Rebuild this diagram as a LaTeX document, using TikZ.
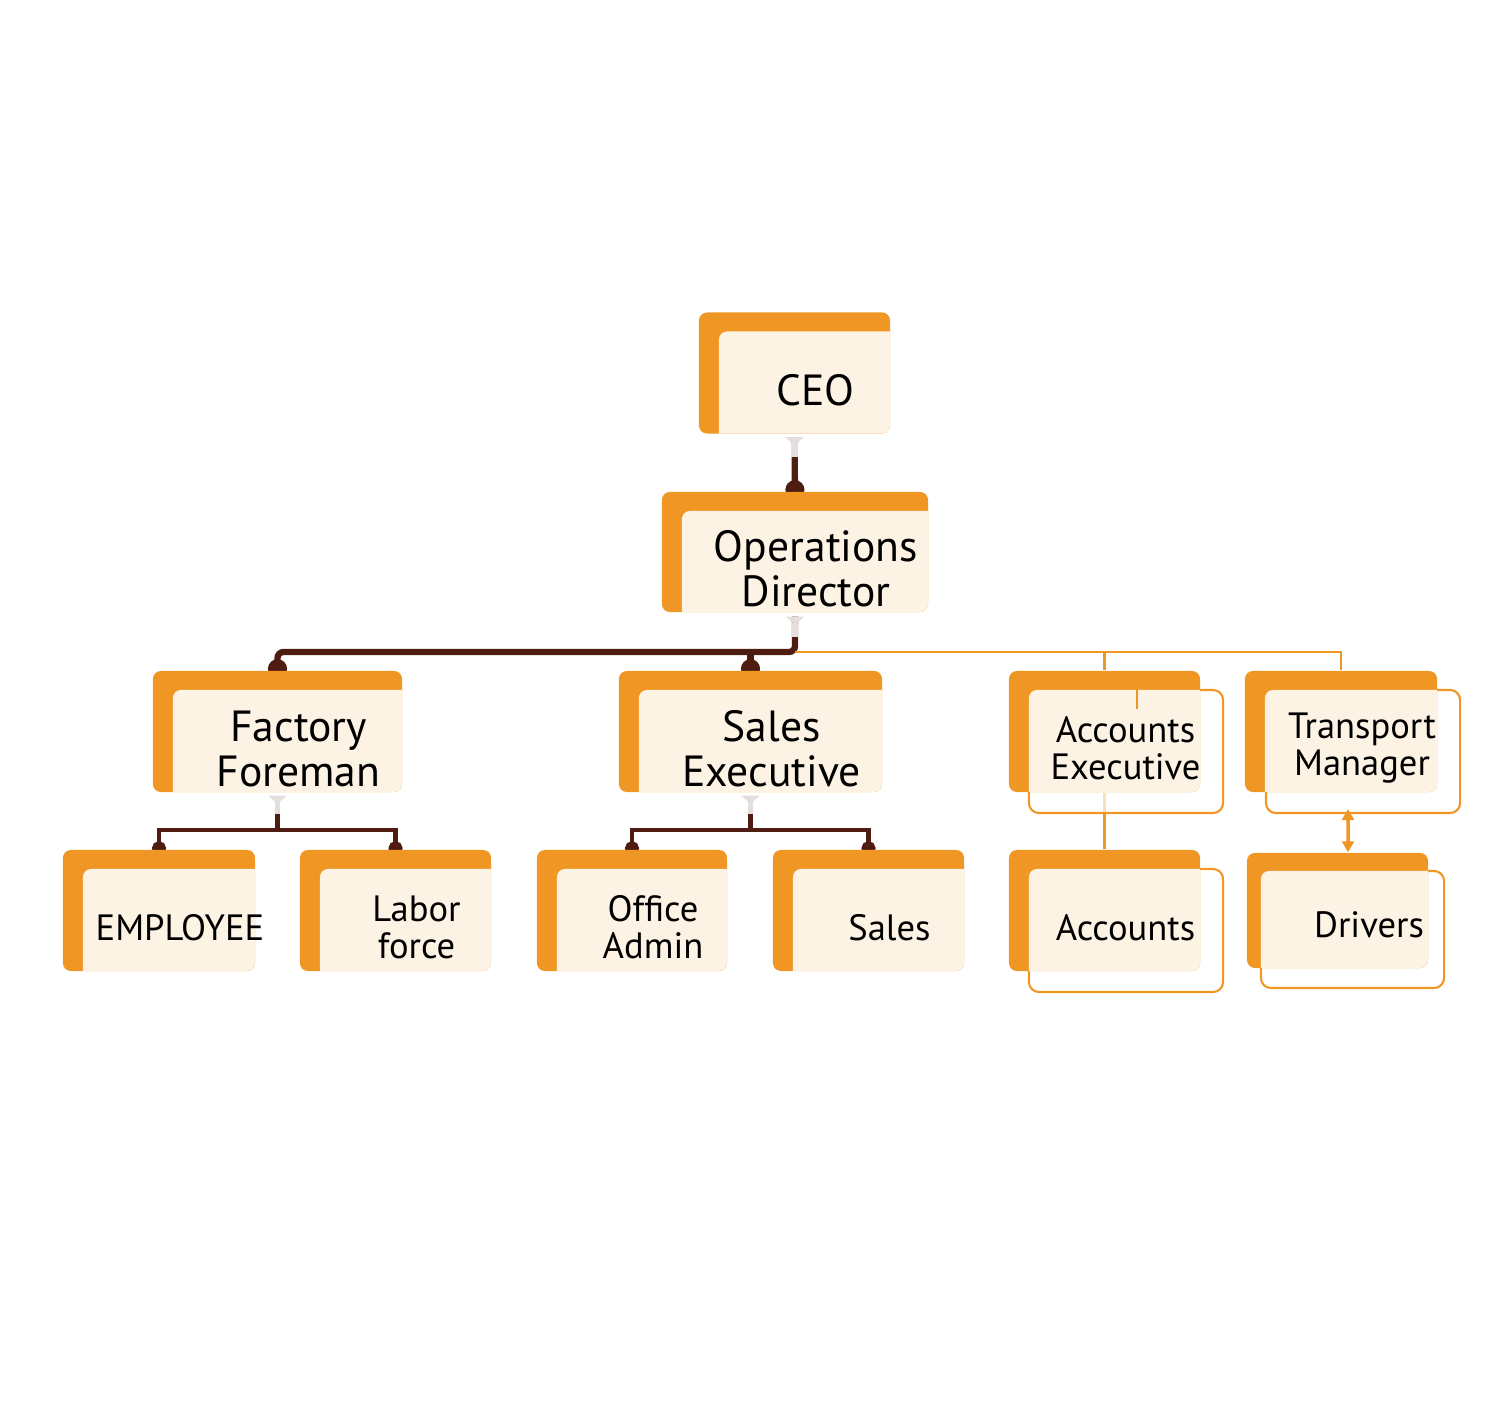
\documentclass[tikz,border=0pt]{standalone}
\usepackage{fontspec}
\setmainfont{PT Sans}
\usetikzlibrary{arrows.meta,backgrounds}

\definecolor{orgorange}{RGB}{240,150,36}
\definecolor{cream}{RGB}{253,243,228}
\definecolor{pipebrown}{RGB}{78,28,16}
\definecolor{pipegrey}{RGB}{228,222,220}

\newcommand{\bigtxt}{\fontsize{12.4}{12.8}\selectfont}
\newcommand{\smalltxt}{\fontsize{10.4}{10.5}\selectfont}
\newcommand{\creamdx}{0.2cm}
\newcommand{\creamdy}{0.19cm}

\tikzset{
  unit/.style={fill=orgorange, rounded corners=0.08cm, inner sep=0pt,
    minimum width=1.91cm, minimum height=1.21cm,
    path picture={\fill[cream, rounded corners=0.08cm]
      ([shift={(\creamdx,-\creamdy)}]path picture bounding box.north west) rectangle
      ([shift={(0.2cm,-0.2cm)}]path picture bounding box.south east);}},
  frame/.style={draw=orgorange, line width=0.6pt, fill=white, fill opacity=0.7,
    rounded corners=0.1cm, inner sep=0pt},
  txt/.style={align=center, inner sep=0pt, xshift=0.21cm, yshift=-0.17cm, font=\smalltxt},
  pipe/.style={draw=pipebrown, line width=1.8pt, rounded corners=0.06cm, -{Circle[length=0.19cm]}},
  twig/.style={draw=pipebrown, line width=1.4pt, {Circle[length=0.14cm]}-{Circle[length=0.14cm]}},
  stub/.style={draw=pipegrey, line width=1.8pt, {Triangle[reversed, width=0.18cm, length=0.08cm]}-},
  feed/.style={draw=orgorange, line width=0.6pt},
  link/.style={draw=orgorange, line width=1pt,
    {Triangle[width=0.12cm, length=0.11cm]}-{Triangle[width=0.12cm, length=0.11cm]}}
}

\begin{document}
\begin{tikzpicture}[x=0.01cm, y=-0.01cm]

  \useasboundingbox (0,0) rectangle (1500,1422);

  % top of the chart
  \node[unit, label={[txt, name=ceo-t, font=\bigtxt]center:CEO}] (ceo) at (794.5,373) {};
  \node[unit, minimum width=2.66cm, minimum height=1.20cm,
        label={[txt, name=od-t, font=\bigtxt]center:{Operations\\Director}}] (od) at (795,552) {};

  % second row
  \node[unit, minimum width=2.49cm, label={[txt, name=ff-t, font=\bigtxt]center:{Factory\\Foreman}}] (ff) at (277.5,731.5) {};
  \node[unit, minimum width=2.63cm, label={[txt, name=se-t, font=\bigtxt]center:{Sales\\Executive}}] (se) at (750.5,731.5) {};
  \node[unit, label={[txt, name=ae-t]center:{Accounts\\Executive}}] (ae) at (1104.5,731.5) {};
  \node[unit, minimum width=1.92cm, label={[txt, name=tm-t]center:{Transport\\Manager}}] (tm) at (1341,731.5) {};

  % third row
  \node[unit, minimum width=1.92cm, label={[txt, name=emp-t]center:EMPLOYEE}] (emp) at (159,910.5) {};
  \node[unit, label={[txt, name=lab-t]center:{Labor\\force}}] (lab) at (395.5,910.5) {};
  \node[unit, minimum width=1.90cm, label={[txt, name=off-t]center:{Office\\Admin}}] (off) at (632,910.5) {};
  \node[unit, label={[txt, name=sal-t]center:Sales}] (sal) at (868.5,910.5) {};
  \node[unit, label={[txt, name=acc-t]center:Accounts}] (acc) at (1104.5,910.5) {};
  \begin{scope}
    \renewcommand{\creamdx}{0.14cm}
    \renewcommand{\creamdy}{0.18cm}
    \node[unit, minimum width=1.81cm, minimum height=1.15cm,
          label={[txt, name=drv-t, xshift=0.105cm, yshift=0.025cm]center:Drivers}] (drv) at (1337.5,910.5) {};
  \end{scope}

  \coordinate (bus) at (795,652);
  \coordinate (ff-bus) at (277.5,830);
  \coordinate (se-bus) at (750.5,830);

  \begin{scope}[on background layer]
    % brown pipes
    \draw[pipe] ([yshift=-0.03cm]ceo.south) -- ([yshift=-0.08cm]od.north);
    \draw[stub] ([yshift=-0.03cm]ceo.south) -- ++(0,20);
    \draw[pipe] ([yshift=-0.04cm]od.south) -- (bus) -| ([yshift=-0.08cm]ff.north);
    \draw[pipe] (se.north |- bus) -- ([yshift=-0.08cm]se.north);
    \draw[stub] ([yshift=-0.04cm]od.south) -- ++(0,20);

    \draw[twig] ([yshift=-0.06cm]emp.north) |- (ff-bus) -| ([yshift=-0.06cm]lab.north);
    \draw[twig, -] ([yshift=-0.03cm]ff.south) -- (ff-bus);
    \draw[stub, line width=1.4pt] ([yshift=-0.03cm]ff.south) -- ++(0,18);
    \draw[twig] ([yshift=-0.06cm]off.north) |- (se-bus) -| ([yshift=-0.06cm]sal.north);
    \draw[twig, -] ([yshift=-0.03cm]se.south) -- (se-bus);
    \draw[stub, line width=1.4pt] ([yshift=-0.03cm]se.south) -- ++(0,18);

    % orange lines
    \draw[feed] (bus) -- (bus -| tm.north) -- (tm.north);
    \draw[feed] (bus -| ae.north) -- (ae.north);
    \draw[feed] (ae.south) -- (acc.north);

    % outlined front cards
    \node[frame, minimum width=1.94cm, minimum height=1.23cm] (ae-f) at (1126,751.5) {};
    \node[frame, minimum width=1.94cm, minimum height=1.23cm] (acc-f) at (1126,930.5) {};
    \node[frame, minimum width=1.94cm, minimum height=1.23cm] (tm-f) at (1363,751.5) {};
    \node[frame, minimum width=1.83cm, minimum height=1.17cm] (drv-f) at (1352.5,929.5) {};
  \end{scope}

  \draw[feed] ([xshift=0.11cm]ae-f.north) -- ++(0,20);
  \draw[link] ([shift={(-0.15cm,0.05cm)}]tm-f.south) -- ([xshift=0.105cm]drv.north);

\end{tikzpicture}
\end{document}
